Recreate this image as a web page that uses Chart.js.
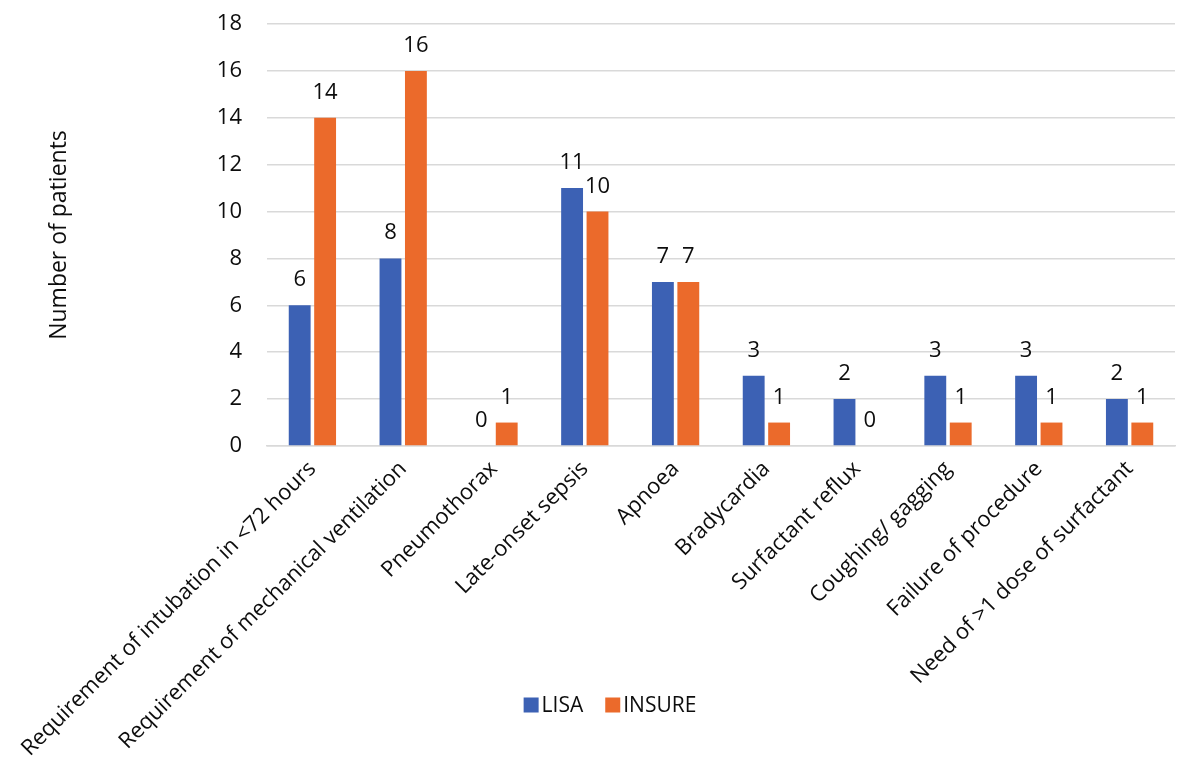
<!DOCTYPE html>
<html>
<head>
<meta charset="utf-8">
<script src="https://cdn.jsdelivr.net/npm/chart.js@4.4.1/dist/chart.umd.min.js"></script>
<style>
  html, body { margin: 0; padding: 0; background: #fff; }
  #wrap { width: 1178px; height: 771px; }
</style>
</head>
<body>
<div id="wrap"><canvas id="chart" width="1178" height="771"></canvas></div>
<script>
// categories along the x axis
const categories = [
    "Requirement of intubation in <72 hours",
    "Requirement of mechanical ventilation",
    "Pneumothorax",
    "Late-onset sepsis",
    "Apnoea",
    "Bradycardia",
    "Surfactant reflux",
    "Coughing/ gagging",
    "Failure of procedure",
    "Need of >1 dose of surfactant"
];

// number of patients per group
const lisa = [6, 8, 0, 11, 7, 3, 2, 3, 3, 2];
const insure = [14, 16, 1, 10, 7, 1, 0, 1, 1, 1];

const yTicks = [0, 2, 4, 6, 8, 10, 12, 14, 16, 18];

const FONT = "'Open Sans', 'Liberation Sans', sans-serif";
const TEXT = "#0d0d0d";

// value labels on top of every bar
const barLabels = {
    id: "barLabels",
    afterDatasetsDraw(chart) {
        const ctx = chart.ctx;
        ctx.save();
        ctx.font = "22px " + FONT;
        ctx.fillStyle = TEXT;
        ctx.textAlign = "center";
        ctx.textBaseline = "alphabetic";
        chart.data.datasets.forEach((ds, i) => {
            const meta = chart.getDatasetMeta(i);
            meta.data.forEach((bar, j) => {
                ctx.fillText(String(ds.data[j]), bar.x, bar.y - 19);
            });
        });
        ctx.restore();
    }
};

// legend sits inside the label area, like the original
const bottomLegend = {
    id: "bottomLegend",
    afterDraw(chart, args, opts) {
        const ctx = chart.ctx;
        ctx.save();
        ctx.font = "21px " + FONT;
        ctx.textBaseline = "middle";
        ctx.textAlign = "left";
        const box = 15, gap = 3, spacing = 22;
        const items = chart.data.datasets.map(ds => ({
            label: ds.label,
            color: ds.backgroundColor,
            w: box + gap + ctx.measureText(ds.label).width
        }));
        const total = items.reduce((s, it) => s + it.w, 0) + spacing * (items.length - 1);
        let x = opts.centerX - total / 2;
        items.forEach(it => {
            ctx.fillStyle = it.color;
            ctx.fillRect(x, opts.y - box / 2, box, box);
            ctx.fillStyle = TEXT;
            ctx.fillText(it.label, x + box + gap, opts.y + 1);
            x += it.w + spacing;
        });
        ctx.restore();
    }
};

const ctx = document.getElementById("chart").getContext("2d");

new Chart(ctx, {
    type: "bar",
    data: {
        labels: categories,
        datasets: [
            {
                label: "LISA",
                data: lisa,
                backgroundColor: "#3c61b4",
                categoryPercentage: 0.56,
                barPercentage: 0.86
            },
            {
                label: "INSURE",
                data: insure,
                backgroundColor: "#eb6a2b",
                categoryPercentage: 0.56,
                barPercentage: 0.86
            }
        ]
    },
    options: {
        responsive: false,
        animation: false,
        layout: { padding: { top: 24, right: 3, left: 46, bottom: 0 } },
        plugins: {
            legend: { display: false },
            tooltip: { enabled: false },
            bottomLegend: { centerX: 610, y: 705 }
        },
        scales: {
            x: {
                grid: { display: false, drawTicks: false },
                border: { color: "#d9d9d9", width: 1.5 },
                ticks: {
                    font: { family: FONT, size: 22 },
                    color: TEXT,
                    minRotation: 45,
                    maxRotation: 45,
                    padding: 10,
                    autoSkip: false
                },
                afterFit(scale) { scale.height = 771 - 446; }
            },
            y: {
                min: 0,
                max: 18,
                afterBuildTicks(scale) { scale.ticks = yTicks.map(v => ({ value: v })); },
                grid: { color: "#d9d9d9", lineWidth: 1.5, drawTicks: false },
                border: { display: false },
                ticks: {
                    font: { family: FONT, size: 22 },
                    color: TEXT,
                    padding: 25
                },
                title: {
                    display: true,
                    text: "Number of patients",
                    font: { family: FONT, size: 23 },
                    color: TEXT,
                    padding: 0
                },
                afterFit(scale) {
                    scale.width = 267 - 46;
                    scale.paddingTop = 0;
                    scale.paddingBottom = 0;
                }
            }
        }
    },
    plugins: [barLabels, bottomLegend]
});
</script>
</body>
</html>
